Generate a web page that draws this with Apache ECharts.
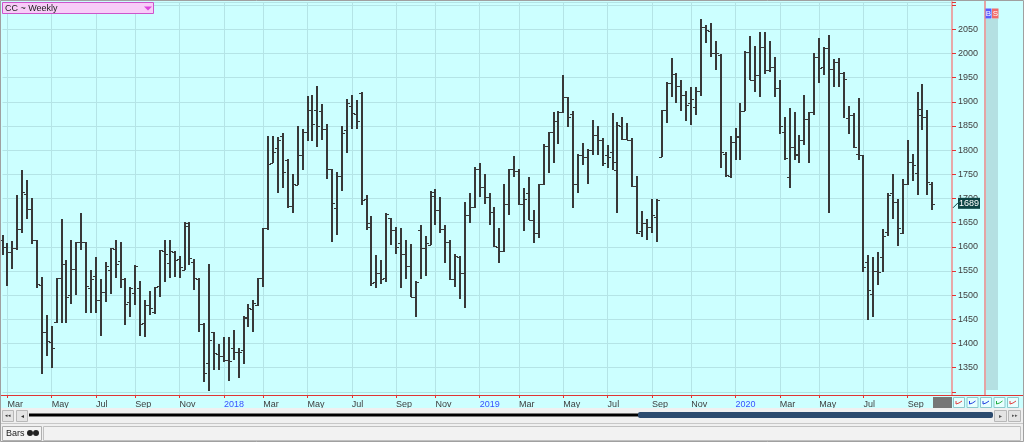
<!DOCTYPE html>
<html><head><meta charset="utf-8">
<script src="https://cdn.jsdelivr.net/npm/echarts@6/dist/echarts.min.js"></script>
<style>html,body{margin:0;padding:0;background:#f0f0f0;overflow:hidden}#c{width:1024px;height:442px}</style>
</head><body><div id="c"></div>
<script>
// ---- DATA (weekly OHLC, CC cocoa) ----
const firstWeek = [2017, 1, 24]; // Friday Feb 24 2017 (UTC y, m0, d)
const opens = [1615,1600,1590,1597,1636,1710,1678,1614,1521,1423,1403,1445,1536,1564,1500,1555,1609,1610,1514,1540,
1489,1507,1552,1595,1571,1533,1485,1505,1515,1443,1480,1465,1519,1592,1567,1590,1574,1552,1649,1569,
1533,1440,1359,1423,1378,1375,1366,1390,1382,1386,1452,1471,1480,1535,1638,1773,1804,1829,1780,1685,
1728,1789,1837,1884,1883,1881,1844,1760,1680,1746,1842,1891,1875,1918,1700,1642,1528,1545,1535,1659,
1635,1607,1585,1561,1497,1635,1597,1604,1714,1676,1636,1611,1533,1580,1545,1666,1683,1762,1724,1704,
1673,1600,1592,1688,1761,1757,1688,1712,1655,1629,1729,1808,1837,1860,1878,1909,1874,1729,1790,1786,
1800,1831,1821,1790,1797,1759,1850,1824,1822,1726,1633,1649,1642,1662,1785,1884,1938,1957,1932,1915,
1897,1890,1923,2055,2047,2000,1997,1793,1746,1817,1828,1881,2004,1945,1955,2013,1966,1973,1928,1838,
1744,1807,1793,1821,1864,1878,1992,1973,2011,1968,1983,1960,1867,1873,1793,1790,1568,1502,1549,1578,
1631,1711,1693,1628,1730,1776,1752,1886,1868,1730];
const highs = [1624,1607,1612,1707,1759,1738,1702,1615,1537,1460,1437,1536,1657,1573,1615,1611,1669,1610,1552,1578,
1533,1569,1598,1614,1609,1535,1517,1562,1529,1490,1509,1517,1593,1615,1615,1591,1581,1652,1652,1574,
1535,1443,1564,1424,1398,1414,1414,1428,1391,1457,1481,1491,1535,1638,1829,1829,1828,1836,1782,1750,
1850,1843,1913,1915,1933,1895,1855,1760,1755,1849,1905,1915,1904,1920,1708,1664,1583,1573,1669,1659,
1642,1640,1615,1605,1529,1645,1622,1715,1720,1704,1645,1614,1585,1582,1692,1711,1766,1773,1750,1711,
1683,1638,1729,1762,1787,1762,1721,1744,1676,1731,1812,1838,1878,1880,1955,1909,1880,1793,1814,1802,
1862,1849,1826,1811,1876,1859,1868,1857,1826,1746,1674,1657,1700,1700,1883,1942,1990,1960,1945,1922,
1930,1930,2071,2059,2064,2026,1998,1797,1829,1845,1897,2006,2036,2016,2044,2044,2026,1993,1945,1869,
1887,1879,1831,1915,1879,2000,2033,2014,2038,1988,1990,1962,1891,1876,1907,1790,1583,1580,1589,1637,
1711,1751,1700,1740,1822,1792,1921,1937,1884,1735];
const lows = [1583,1519,1555,1593,1628,1657,1605,1515,1336,1374,1350,1442,1443,1443,1482,1500,1593,1464,1464,1464,
1416,1486,1502,1536,1514,1438,1455,1480,1416,1414,1460,1462,1497,1528,1535,1538,1535,1552,1562,1511,
1423,1321,1302,1345,1346,1362,1322,1366,1329,1357,1435,1424,1478,1516,1635,1773,1711,1721,1680,1671,
1728,1759,1819,1818,1807,1821,1740,1609,1624,1715,1795,1843,1843,1687,1635,1518,1514,1523,1528,1604,
1586,1514,1533,1497,1455,1533,1540,1604,1645,1628,1566,1531,1516,1493,1473,1649,1680,1704,1689,1646,
1600,1567,1590,1666,1745,1686,1633,1655,1608,1618,1728,1752,1773,1812,1876,1847,1681,1711,1769,1731,
1791,1790,1767,1764,1759,1669,1822,1821,1724,1627,1621,1615,1629,1609,1785,1857,1911,1898,1882,1860,
1852,1873,1913,2021,1992,1966,1764,1745,1743,1780,1780,1880,1945,1921,1911,1958,1962,1911,1833,1780,
1722,1780,1773,1811,1773,1873,1938,1955,1669,1930,1931,1866,1833,1804,1780,1548,1449,1455,1521,1547,
1623,1658,1602,1626,1728,1737,1707,1842,1707,1676];
const closes = [1600,1590,1598,1636,1714,1678,1614,1523,1423,1405,1391,1536,1564,1497,1555,1609,1611,1520,1533,1489,
1507,1560,1597,1564,1533,1482,1515,1560,1440,1480,1473,1517,1593,1585,1592,1573,1559,1643,1576,1535,
1440,1338,1407,1380,1375,1366,1364,1383,1383,1455,1473,1483,1535,1638,1771,1797,1821,1754,1685,1730,
1789,1837,1884,1855,1849,1844,1760,1690,1746,1836,1898,1876,1860,1697,1649,1526,1545,1533,1667,1635,
1600,1585,1561,1497,1528,1597,1607,1705,1676,1636,1611,1533,1581,1545,1666,1682,1762,1724,1704,1673,
1602,1592,1688,1761,1757,1688,1700,1655,1629,1729,1808,1837,1860,1878,1909,1869,1729,1790,1786,1800,
1831,1821,1773,1786,1776,1852,1824,1822,1726,1628,1649,1642,1666,1697,1883,1938,1957,1932,1915,1893,
1905,1923,2055,2048,2000,2002,1797,1749,1817,1830,1881,2004,1945,1955,2013,1966,1973,1928,1850,1783,
1807,1790,1821,1864,1878,1992,1971,2011,1968,1983,1960,1947,1873,1806,1790,1558,1511,1551,1547,1622,
1707,1693,1638,1730,1776,1770,1872,1869,1735,1689];
const emptySlots = 4;               // blank weeks right of the last bar
const monthNames = ['Jan','Feb','Mar','Apr','May','Jun','Jul','Aug','Sep','Oct','Nov','Dec'];
const labelledMonths = [1, 3, 5, 7, 9, 11];
const lastPrice = 1689;
const yMin = 1293.5, yMax = 2106.5;

// ---- categories (weekly Friday dates) ----
const cats = [];
for (let i = 0; i < opens.length; i++) {
  const d = new Date(Date.UTC(firstWeek[0], firstWeek[1], firstWeek[2]) + i * 7 * 864e5);
  cats.push(d.toISOString().slice(0, 10));
}
for (let k = 0; k < emptySlots; k++) cats.push('');
const bars = opens.map((o, i) => [i, o, closes[i], lows[i], highs[i]]);

function isMonthStart(idx, val) {
  if (!val) return false;
  return +val.slice(8, 10) <= 7 && labelledMonths.indexOf(+val.slice(5, 7)) >= 0;
}
function monthLabel(val) {
  if (!val) return '';
  const m = +val.slice(5, 7);
  if (m === 1) return '{y|' + val.slice(0, 4) + '}';
  return monthNames[m - 1];
}

const GRID = {left: 2.5, right: 72, top: 2, bottom: 47};
const barColor = '#383838';
const gridColor = '#b4e4e6';
const axisRed = '#e03434';
const FONT = 'Liberation Sans, Arial, sans-serif';

const chart = echarts.init(document.getElementById('c'), null, {renderer: 'canvas'});
chart.setOption({
  animation: false,
  backgroundColor: '#ccffff',
  grid: GRID,
  xAxis: {
    type: 'category', data: cats, boundaryGap: false,
    axisLine: {lineStyle: {color: axisRed, width: 1}},
    axisTick: {interval: isMonthStart, length: 3, lineStyle: {color: axisRed}},
    axisLabel: {
      interval: isMonthStart, formatter: monthLabel, align: 'left', margin: 5,
      fontSize: 9, color: '#404040', fontFamily: FONT,
      rich: {y: {fontSize: 9, color: '#3a50ff', fontFamily: FONT}}
    },
    splitLine: {show: true, interval: isMonthStart, lineStyle: {color: gridColor, width: 1}}
  },
  yAxis: {
    type: 'value', position: 'right', min: yMin, max: yMax, splitNumber: 16,
    axisLine: {show: true, lineStyle: {color: '#e8a8a8', width: 2}},
    axisTick: {show: true, length: 4, lineStyle: {color: axisRed}},
    axisLabel: {
      margin: 6, fontSize: 9, color: '#404040', fontFamily: FONT,
      verticalAlign: 'middle', padding: [0, 0, 6, 0],
      formatter: v => (v % 50 === 0 && v >= 1350 && v <= 2050) ? String(v) : ''
    },
    splitLine: {show: true, lineStyle: {color: gridColor, width: 1}}
  },
  series: [{
    type: 'custom',
    data: bars,
    encode: {x: 0, y: [1, 2, 3, 4]},
    clip: false,
    renderItem: function (params, api) {
      const i = api.value(0);
      const po = api.coord([i, api.value(1)]);
      const pc = api.coord([i, api.value(2)]);
      const pl = api.coord([i, api.value(3)]);
      const ph = api.coord([i, api.value(4)]);
      const x = Math.round(po[0]);
      const oy = Math.round(po[1]) + 0.5, cy = Math.round(pc[1]) + 0.5;
      const st = {stroke: barColor, lineWidth: 2};
      const st1 = {stroke: barColor, lineWidth: 1};
      return {type: 'group', children: [
        {type: 'line', shape: {x1: x, y1: Math.round(ph[1]), x2: x, y2: Math.round(pl[1])}, style: st},
        {type: 'line', shape: {x1: x - 3, y1: oy, x2: x, y2: oy}, style: st1},
        {type: 'line', shape: {x1: x, y1: cy, x2: x + 3, y2: cy}, style: st1}
      ]};
    }
  }]
});

// ---- chrome / decorations ----
const yLast = chart.convertToPixel({yAxisIndex: 0}, lastPrice);
const icons = [];
const iconColors = ['#e04040', '#2040e0', '#2040e0', '#20b040', '#e04040'];
for (let k = 0; k < 5; k++) {
  const x0 = 953 + k * 13.5;
  icons.push({type: 'rect', shape: {x: x0 + 0.5, y: 397.5, width: 11, height: 10}, style: {fill: '#e8ffff', stroke: '#8cc8cc', lineWidth: 1}, z: 10});
  icons.push({type: 'polyline', shape: {points: [[x0 + 3, 401], [x0 + 3, 404], [x0 + 6, 403], [x0 + 9, 401]]}, style: {stroke: iconColors[k], lineWidth: 1, fill: null}, z: 11});
}
chart.setOption({
  graphic: [
    {type: 'rect', shape: {x: 986, y: 19, width: 12, height: 371}, style: {fill: '#b4e0e2'}, z: 5},
    {type: 'line', shape: {x1: 985, y1: 0, x2: 985, y2: 395}, style: {stroke: '#e4a4a4', lineWidth: 2}, z: 5},
    {type: 'rect', shape: {x: 985.5, y: 8.5, width: 6, height: 10}, style: {fill: '#5a5aff'}, z: 6},
    {type: 'text', style: {x: 988.5, y: 13.5, text: 'B', fill: '#ffffff', font: '8px ' + FONT, align: 'center', verticalAlign: 'middle'}, z: 7},
    {type: 'rect', shape: {x: 992, y: 8.5, width: 6.5, height: 10}, style: {fill: '#f06a6a'}, z: 6},
    {type: 'text', style: {x: 995.3, y: 13.5, text: 'S', fill: '#ffffff', font: '8px ' + FONT, align: 'center', verticalAlign: 'middle'}, z: 7},
    {type: 'line', shape: {x1: 0, y1: 395.5, x2: 1024, y2: 395.5}, style: {stroke: axisRed, lineWidth: 1}, z: 6},
    {type: 'rect', shape: {x: 933, y: 397, width: 19, height: 11}, style: {fill: '#767676'}, z: 10},
    ...icons,
    {type: 'line', shape: {x1: 953, y1: yLast + 4, x2: 958, y2: yLast - 1}, style: {stroke: '#0d3f3f', lineWidth: 1}, z: 10},
    {type: 'rect', shape: {x: 958, y: yLast - 6, width: 22, height: 11}, style: {fill: '#0d4444'}, z: 10},
    {type: 'text', style: {x: 969, y: yLast - 0.5, text: String(lastPrice), fill: '#ffffff', font: '9px ' + FONT, align: 'center', verticalAlign: 'middle'}, z: 11},
    {type: 'rect', shape: {x: 2.5, y: 2.5, width: 151, height: 11}, style: {fill: '#f8ccf8', stroke: '#cc55cc', lineWidth: 1}, z: 10},
    {type: 'text', style: {x: 5, y: 8.5, text: 'CC ~ Weekly', fill: '#222222', font: '9px ' + FONT, verticalAlign: 'middle'}, z: 11},
    {type: 'polygon', shape: {points: [[144, 6.5], [152, 6.5], [148, 10.5]]}, style: {fill: '#dd44dd'}, z: 11},
    {type: 'rect', shape: {x: 0, y: 408, width: 1024, height: 34}, style: {fill: '#f0f0f0'}, z: 8},
    {type: 'rect', shape: {x: 2.5, y: 410.5, width: 11, height: 11}, style: {fill: '#e4e4e4', stroke: '#b8b8b8', lineWidth: 1}, z: 9},
    {type: 'text', style: {x: 8, y: 416, text: '◂◂', fill: '#333', font: '5px ' + FONT, align: 'center', verticalAlign: 'middle'}, z: 10},
    {type: 'rect', shape: {x: 16.5, y: 410.5, width: 11, height: 11}, style: {fill: '#e4e4e4', stroke: '#b8b8b8', lineWidth: 1}, z: 9},
    {type: 'text', style: {x: 22, y: 416, text: '◂', fill: '#333', font: '6px ' + FONT, align: 'center', verticalAlign: 'middle'}, z: 10},
    {type: 'rect', shape: {x: 29, y: 413.5, width: 610, height: 3}, style: {fill: '#000000'}, z: 9},
    {type: 'rect', shape: {x: 638, y: 412, width: 355, height: 6, r: 2}, style: {fill: '#2b4a6e'}, z: 10},
    {type: 'rect', shape: {x: 994.5, y: 410.5, width: 12, height: 11}, style: {fill: '#e4e4e4', stroke: '#b8b8b8', lineWidth: 1}, z: 9},
    {type: 'text', style: {x: 1000.5, y: 416, text: '▸', fill: '#555', font: '6px ' + FONT, align: 'center', verticalAlign: 'middle'}, z: 10},
    {type: 'rect', shape: {x: 1008.5, y: 410.5, width: 12, height: 11}, style: {fill: '#e4e4e4', stroke: '#b8b8b8', lineWidth: 1}, z: 9},
    {type: 'text', style: {x: 1014.5, y: 416, text: '▸▸', fill: '#555', font: '5px ' + FONT, align: 'center', verticalAlign: 'middle'}, z: 10},
    {type: 'line', shape: {x1: 0, y1: 423.5, x2: 1024, y2: 423.5}, style: {stroke: '#c8c8c8', lineWidth: 1}, z: 9},
    {type: 'rect', shape: {x: 2.5, y: 426.5, width: 39, height: 14}, style: {fill: '#f4f4f4', stroke: '#b0b0b0', lineWidth: 1}, z: 9},
    {type: 'text', style: {x: 6, y: 433.5, text: 'Bars', fill: '#222', font: '9px ' + FONT, verticalAlign: 'middle'}, z: 10},
    {type: 'circle', shape: {cx: 30, cy: 433, r: 3}, style: {fill: '#222'}, z: 10},
    {type: 'circle', shape: {cx: 36, cy: 433, r: 3}, style: {fill: '#222'}, z: 10},
    {type: 'rect', shape: {x: 43.5, y: 426.5, width: 977, height: 14}, style: {fill: '#f2f2f2', stroke: '#c0c0c0', lineWidth: 1}, z: 9},
    {type: 'rect', shape: {x: 0.5, y: 0.5, width: 1023, height: 441}, style: {fill: null, stroke: '#a0a0a0', lineWidth: 1}, z: 20}
  ]
});
</script>
</body></html>
